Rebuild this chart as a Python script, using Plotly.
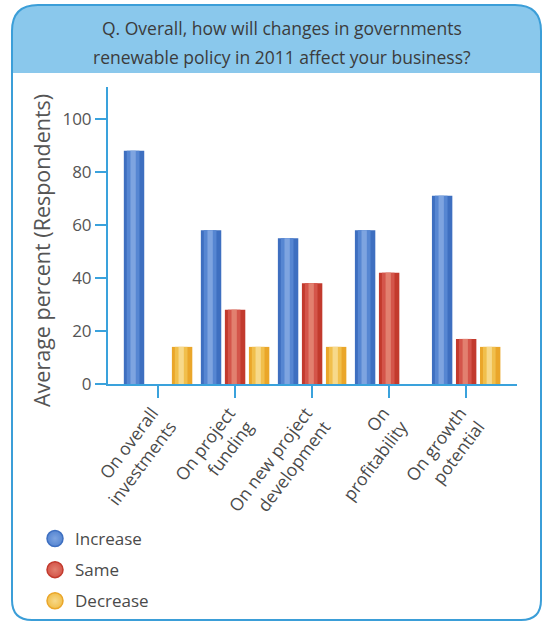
import plotly.graph_objects as go

# ---------------- data ----------------
categories = ["On overall<br>investments", "On project<br>funding",
              "On new project<br>development", "On<br>profitability",
              "On growth<br>potential"]
increase = [88, 58, 55, 58, 71]
same = [0, 28, 38, 42, 17]
decrease = [14, 14, 14, 0, 14]
series_names = ["Increase", "Same", "Decrease"]
y_ticks = [0, 20, 40, 60, 80, 100]

# ---------------- geometry (pixels) ----------------
W, H = 546, 624
PL, PR, PT, PB = 108, 517, 87, 384


def px(x):
    return (x - PL) / (PR - PL)


def py(y):
    return (PB - y) / (PB - PT)


AXIS_BLUE = "#3aa2dc"
TXT = "#4a4a4a"
FONT = "Open Sans"

# colour layers: edge, mid, highlight
palettes = {
    "Increase": ["#3e6fc0", "#5686d2", "#7ea4e0"],
    "Same": ["#c23a2d", "#d4554a", "#e2806f"],
    "Decrease": ["#eaa62a", "#f1bf4c", "#f7d98a"],
}

slot = 0.312
bar_w = 0.265
centers = {"Increase": -slot, "Same": 0.0, "Decrease": slot}
values = {"Increase": increase, "Same": same, "Decrease": decrease}

fig = go.Figure()
for name in series_names:
    c = centers[name]
    for frac, col in zip([1.0, 0.62, 0.26], palettes[name]):
        w = bar_w * frac
        shift = 0 if frac == 1.0 else -0.012
        fig.add_trace(go.Bar(
            x=categories, y=values[name], name=name,
            width=w, offset=c - w / 2 + shift,
            marker=dict(color=col, line=dict(width=0)),
            showlegend=False, hoverinfo="skip" if frac < 1 else None,
        ))

# legend entries (circles)
for name in series_names:
    edge, mid, light = palettes[name]
    fig.add_trace(go.Scatter(
        x=[None], y=[None], mode="markers", name=name,
        legendgroup=name,
        marker=dict(size=18, color=mid, symbol="circle",
                    gradient=dict(type="radial", color=light),
                    line=dict(color=edge, width=1.5)),
    ))

# ---------------- frame & header ----------------
def pt(x, y):
    return f"{px(x):.5f},{py(y):.5f}"


FL, FR, FT, FB = 12, 541, 5, 620
RT, RB = 26, 20
HB = 73

frame_path = (
    f"M {pt(FL, FT + RT)} Q {pt(FL, FT)} {pt(FL + RT, FT)} "
    f"L {pt(FR - RT, FT)} Q {pt(FR, FT)} {pt(FR, FT + RT)} "
    f"L {pt(FR, FB - RB)} Q {pt(FR, FB)} {pt(FR - RB, FB)} "
    f"L {pt(FL + RB, FB)} Q {pt(FL, FB)} {pt(FL, FB - RB)} Z"
)
header_path = (
    f"M {pt(FL, HB)} L {pt(FL, FT + RT)} Q {pt(FL, FT)} {pt(FL + RT, FT)} "
    f"L {pt(FR - RT, FT)} Q {pt(FR, FT)} {pt(FR, FT + RT)} "
    f"L {pt(FR, HB)} Z"
)

shapes = [
    dict(type="path", path=header_path, xref="paper", yref="paper",
         fillcolor="#8ac8ec", line=dict(width=0), layer="below"),
    dict(type="path", path=frame_path, xref="paper", yref="paper",
         fillcolor="rgba(0,0,0,0)", line=dict(color="#3b9ed8", width=2),
         layer="above"),
    # x-axis line overshoot to the left of the y axis
    dict(type="line", xref="paper", yref="paper",
         x0=px(95), x1=0, y0=0, y1=0,
         line=dict(color=AXIS_BLUE, width=2)),
]

annotations = [
    dict(text="Q. Overall, how will changes in governments",
         x=px(282), y=py(28), xref="paper", yref="paper",
         xanchor="center", yanchor="middle", showarrow=False,
         font=dict(family=FONT, size=17.5, color="#3c3c3c")),
    dict(text="renewable policy in 2011 affect your business?",
         x=px(282), y=py(57), xref="paper", yref="paper",
         xanchor="center", yanchor="middle", showarrow=False,
         font=dict(family=FONT, size=17.5, color="#3c3c3c")),
    dict(text="Average percent (Respondents)", textangle=-90,
         x=px(42), y=py(251), xref="paper", yref="paper",
         xanchor="center", yanchor="middle", showarrow=False,
         font=dict(family=FONT, size=21.5, color="#555555")),
]

fig.update_layout(
    width=W, height=H,
    margin=dict(l=PL, r=W - PR, t=PT, b=H - PB, autoexpand=False),
    paper_bgcolor="white", plot_bgcolor="white",
    barmode="overlay",
    shapes=shapes, annotations=annotations,
    showlegend=True,
    legend=dict(x=px(35), y=py(521), xanchor="left", yanchor="top",
                orientation="v", traceorder="grouped", tracegroupgap=6,
                font=dict(family=FONT, size=17, color=TXT),
                bgcolor="rgba(0,0,0,0)", itemwidth=30),
    xaxis=dict(
        range=[-0.65, 4.66], showgrid=False, zeroline=False,
        showline=True, linecolor=AXIS_BLUE, linewidth=2,
        ticks="outside", ticklen=12, tickwidth=1.5, tickcolor=AXIS_BLUE,
        tickangle=-53, tickfont=dict(family=FONT, size=17.5, color=TXT),
        ticklabelshift=-6, ticklabelstandoff=-2,
        automargin=False,
    ),
    yaxis=dict(
        range=[0, 112], showgrid=False, zeroline=False,
        showline=True, linecolor=AXIS_BLUE, linewidth=2,
        ticks="outside", ticklen=11, tickwidth=1.5, tickcolor=AXIS_BLUE,
        tickvals=y_ticks, ticktext=[str(v) for v in y_ticks],
        tickfont=dict(family=FONT, size=17, color="#555555"),
        automargin=False,
    ),
)

fig.write_html("out.html")
